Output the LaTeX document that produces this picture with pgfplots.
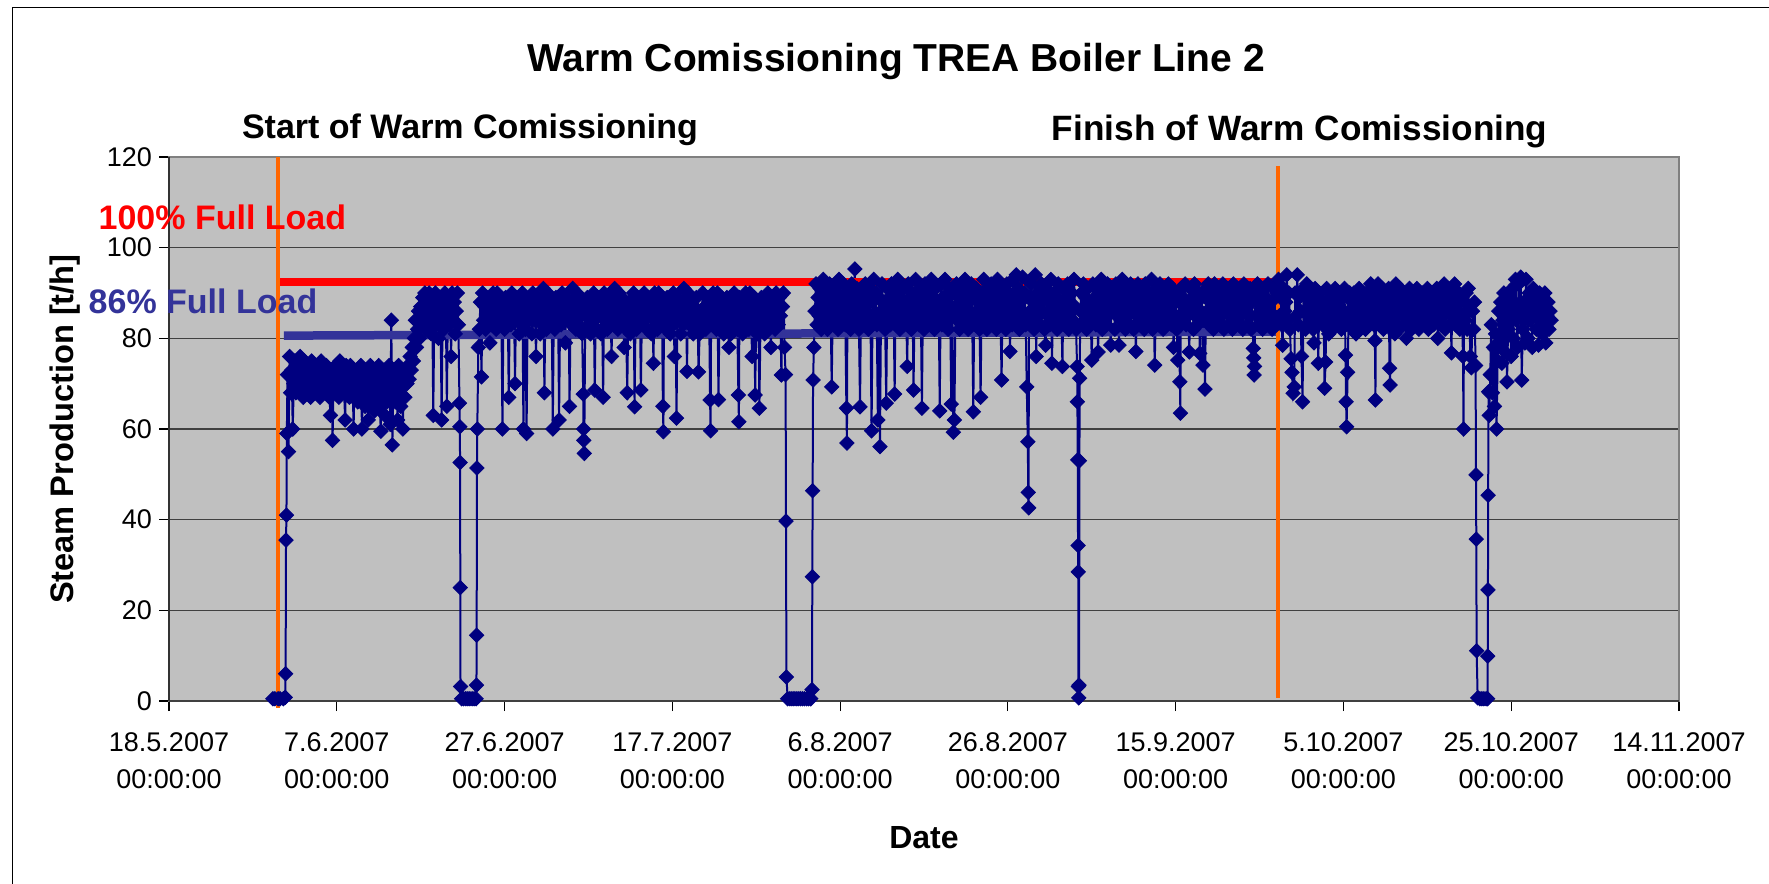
\documentclass[border=0pt]{standalone}
\usepackage{fontspec}
\setmainfont{Liberation Sans}
\usepackage{pgfplots}
\usepackage{pgfplotstable}
\pgfplotsset{compat=1.18}
\definecolor{plotgray}{RGB}{192,192,192}
\definecolor{navy}{RGB}{0,0,128}
\definecolor{loadblue}{RGB}{51,51,153}
\definecolor{comorange}{RGB}{255,102,0}

% x = time in units of 3 hours since 18.5.2007 00:00 (8 units per day)
\pgfplotstableread[row sep=\\]{
x y\\
99 0.5\\ 101 0.5\\ 104 0.5\\ 106 0.5\\ 109 0.5\\ 110.8 0.8\\ 111.2 6\\ 111.6 35.5\\ 112 41\\ 112.4 59\\
113 72\\ 114 55\\ 115 76\\ 116 68\\ 117 73\\ 118 60\\ 119 70\\ 120 75\\ 121 68\\ 122 72\\ 123 74\\ 124 69\\ 125 76\\ 126 70\\
127 73\\ 128 67\\ 129 75\\ 130 71\\ 131 68\\ 132 74\\ 133 70\\ 134 72\\ 135 67\\ 136 75\\ 137 69\\ 138 73\\ 139 71\\ 140 68\\
141 74\\ 142 70\\ 143 72\\ 144 67\\ 145 75\\ 146 69\\ 147 73\\ 148 71\\ 149 68\\ 150 74\\ 151 70\\ 152 72\\ 153 67\\ 154 63\\
155 73\\ 156 57.5\\ 157 71\\ 158 68\\ 159 74\\ 160 70\\ 161 72\\ 162 67\\ 163 75\\ 164 69\\ 165 73\\ 166 71\\ 167 68\\ 168 62\\
169 74\\ 170 70\\ 171 72\\ 172 67\\ 173 74\\ 174 69\\ 175 73\\ 176 60\\ 177 71\\ 178 68\\
179 73\\ 180 66\\ 181 71\\ 182 68\\ 183 74\\ 184 60\\ 185 70\\ 186 72\\ 187 65\\ 188 73\\ 189 67\\ 190 62\\ 191 71\\ 192 74\\
193 66\\ 194 69\\ 195 72\\ 196 64\\ 197 73\\ 198 67\\ 199 70\\ 200 74\\ 201 65\\ 202 59.5\\ 203 71\\ 204 68\\ 205 73\\ 206 63\\
207 70\\ 208 66\\ 209 72\\ 210 74\\ 211 61\\ 212 84\\ 213 56.5\\ 214 69\\ 215 73\\ 216 66\\ 217 71\\ 218 62\\ 219 74\\ 220 68\\
221 65\\ 222 72\\ 223 60\\ 224 70\\ 225 67\\ 226 73\\
227 70\\ 228 74\\ 229 71\\ 230 76\\ 231 73\\ 232 78\\ 233 75\\ 234 80\\ 235 84\\ 236 78\\ 237 82\\ 238 86\\ 239 80\\ 240 87\\
241 83\\ 242 89\\ 243 85\\ 244 90\\ 245 82\\ 246 88\\ 247 84\\ 248 90\\ 249 86\\ 250 81\\ 251 89\\ 252 63\\ 253 85\\ 254 90\\
255 83\\ 256 87\\ 257 80\\ 258 89\\ 259 84\\ 260 62\\ 261 88\\ 262 82\\ 263 90\\ 264 86\\ 265 65\\ 266 89\\ 267 83\\ 268 87\\
269 76\\ 270 90\\ 271 84\\ 272 88\\ 273 81\\ 274 86\\ 275 90\\ 276 83\\ 277 65.7\\ 277.3 60.5\\ 277.6 52.6\\ 277.8 25\\ 278 3.2\\
279 0.5\\ 281 0.5\\ 283 0.5\\ 285 0.5\\ 287 0.5\\ 289 0.5\\ 291 0.5\\ 292.8 0.5\\ 293.2 3.5\\ 293.4 14.5\\ 293.7 51.4\\ 294 60\\ 295 78\\
296 82\\ 297 88\\ 298 71.5\\ 299 90\\ 300 84\\ 301 87\\ 302 82\\ 303 89\\ 304 85\\ 305 88\\ 306 79\\ 307 86\\ 308 83\\ 309 90\\
310 84\\ 311 88\\ 312 82\\ 313 90\\ 314 86\\ 315 83\\ 316 89\\ 317 85\\ 318 60\\ 319 87\\ 320 82\\ 321 89\\ 322 85\\ 323 88\\
324 67\\ 325 86\\ 326 83\\ 327 90\\ 328 84\\ 329 87\\ 330 70\\ 331 89\\ 332 85\\ 333 88\\ 334 81\\ 335 86\\ 336 83\\ 337 90\\
338 60\\ 339 88\\ 340 82\\ 341 59\\ 342 86\\ 343 84\\ 344 89\\ 345 85\\ 346 81\\ 347 90\\ 348 84\\ 349 87\\ 350 76\\ 351 89\\
352 85\\ 353 88\\ 354 81\\ 355 86\\ 356 83\\ 357 91\\ 358 68\\ 359 88\\ 360 82\\ 361 90\\ 362 86\\ 363 83\\ 364 89\\ 365 85\\
366 60\\ 367 87\\ 368 82\\ 369 89\\ 370 85\\ 371 88\\ 372 62\\ 373 86\\ 374 83\\ 375 90\\ 376 84\\ 377 87\\ 378 79\\ 379 89\\
380 85\\ 381 88\\ 382 65\\ 383 86\\ 384 83\\ 385 91\\ 386 84\\ 387 88\\ 388 82\\ 389 90\\ 390 86\\ 391 83\\ 392 89\\ 393 85\\
394 81\\ 395 67.7\\ 395.3 60\\ 395.6 57.5\\ 396 54.6\\ 397 87\\ 398 82\\ 399 89\\ 400 85\\ 401 88\\ 402 81\\ 403 86\\ 404 83\\
405 90\\ 406 68.6\\ 407 87\\ 408 82\\ 409 89\\ 410 85\\ 411 88\\ 412 81\\ 413 86\\ 414 67\\ 415 90\\ 416 84\\ 417 87\\ 418 82\\
419 89\\ 420 85\\ 421 88\\ 422 76\\ 423 86\\ 424 83\\ 425 91\\ 426 84\\ 427 88\\ 428 82\\ 429 90\\ 430 86\\ 431 83\\ 432 89\\
433 85\\ 434 78\\ 435 87\\ 436 82\\ 437 68\\ 438 85\\ 439 88\\ 440 81\\ 441 86\\ 442 83\\ 443 90\\ 444 64.9\\ 445 87\\ 446 82\\
447 89\\ 448 85\\ 449 88\\ 450 68.6\\ 451 86\\ 452 83\\ 453 90\\ 454 84\\ 455 87\\ 456 82\\ 457 89\\ 458 85\\ 459 88\\ 460 81\\
461 86\\ 462 74.5\\ 463 90\\ 464 84\\ 465 88\\ 466 82\\ 467 90\\ 468 86\\ 469 83\\ 470 89\\ 471 65\\ 471.5 59.4\\ 472 85\\ 473 87\\
474 82\\ 475 89\\ 476 85\\ 477 88\\ 478 81\\ 479 86\\ 480 83\\ 481 90\\ 482 76\\ 483 87\\ 484 62.4\\ 485 89\\ 486 85\\ 487 88\\
488 81\\ 489 86\\ 490 83\\ 491 91\\ 492 84\\ 493 88\\ 494 72.7\\ 495 90\\ 496 86\\ 497 83\\ 498 89\\ 499 85\\ 500 81\\ 501 87\\
502 82\\ 503 89\\ 504 85\\ 505 72.6\\ 506 81\\ 507 86\\ 508 83\\ 509 90\\ 510 84\\ 511 87\\ 512 82\\ 513 89\\ 514 85\\ 515 88\\
516 66.4\\ 516.5 59.6\\ 517 86\\ 518 83\\ 519 90\\ 520 84\\ 521 88\\ 522 82\\ 523 90\\ 524 66.5\\ 525 86\\ 526 83\\ 527 89\\ 528 85\\
529 81\\ 530 87\\ 531 82\\ 532 89\\ 533 85\\ 534 78\\ 535 88\\ 536 81\\ 537 86\\ 538 83\\ 539 90\\ 540 84\\ 541 87\\ 542 82\\
543 67.5\\ 543.5 61.6\\ 544 89\\ 545 85\\ 546 88\\ 547 81\\ 548 86\\ 549 83\\ 550 90\\ 551 84\\ 552 88\\ 553 82\\ 554 90\\ 555 86\\
556 76\\ 557 83\\ 558 89\\ 559 67.5\\ 560 85\\ 561 81\\ 562 87\\ 563 64.6\\ 564 82\\ 565 89\\ 566 85\\ 567 88\\ 568 81\\ 569 86\\
570 83\\ 571 90\\ 572 84\\ 573 87\\ 574 78\\ 575 89\\ 576 85\\ 577 88\\ 578 82\\ 579 90\\ 580 86\\ 581 83\\ 582 89\\ 583 85\\
584 71.9\\ 585 87\\ 586 90\\ 587 78\\ 588 72\\ 588.4 39.7\\ 588.8 5.3\\ 590 0.5\\ 592 0.5\\ 594 0.5\\ 596 0.5\\ 598 0.5\\ 600 0.5\\
602 0.5\\ 604 0.5\\ 606 0.5\\ 608 0.5\\ 610 0.5\\ 612 0.5\\ 613.2 2.5\\ 613.5 27.4\\ 613.8 46.4\\ 614.2 70.8\\
615 78\\ 616 86\\ 617 92\\ 618 83\\ 619 89\\ 620 85\\ 621 91\\ 622 82\\ 623 88\\ 624 93\\ 625 84\\ 626 90\\ 627 86\\ 628 82\\
629 89\\ 630 92\\ 631 85\\ 632 69.3\\ 633 88\\ 634 83\\ 635 91\\ 636 86\\ 637 90\\ 638 82\\ 639 93\\ 640 85\\ 641 89\\ 642 84\\
643 92\\ 644 87\\ 645 83\\ 646 64.6\\ 646.5 56.9\\ 647 90\\ 648 85\\ 649 88\\ 650 82\\ 651 92\\ 652 86\\ 653 89\\ 654 95.3\\ 655 84\\
656 91\\ 657 87\\ 658 82\\ 659 64.9\\ 660 90\\ 661 85\\ 662 88\\ 663 83\\ 664 92\\ 665 86\\ 666 89\\ 667 82\\ 668 91\\ 669 84\\
670 59.6\\ 671 88\\ 672 93\\ 673 85\\ 674 90\\ 675 83\\ 676 62\\ 677 89\\ 678 56.1\\ 679 86\\ 680 92\\ 681 84\\ 682 88\\ 683 82\\
684 65.7\\ 685 91\\ 686 86\\ 687 89\\ 688 83\\ 689 92\\ 690 85\\ 691 88\\ 692 67.7\\ 693 90\\ 694 84\\ 695 93\\ 696 87\\ 697 82\\
698 89\\ 699 85\\ 700 91\\ 701 83\\ 702 88\\ 703 86\\ 704 73.8\\ 705 92\\ 706 84\\ 707 89\\ 708 82\\ 709 90\\ 710 68.6\\ 711 87\\
712 93\\ 713 85\\ 714 88\\ 715 83\\ 716 91\\ 717 86\\ 718 64.6\\ 719 89\\ 720 82\\ 721 92\\ 722 85\\ 723 88\\ 724 83\\ 725 90\\
726 86\\ 727 93\\ 728 84\\ 729 89\\ 730 82\\ 731 91\\ 732 87\\ 733 85\\ 734 88\\ 735 64\\ 736 92\\ 737 83\\ 738 89\\ 739 86\\
740 93\\ 741 84\\ 742 88\\ 743 82\\ 744 91\\ 745 85\\ 746 65.5\\ 747 90\\ 748 59.3\\ 749 62\\ 750 87\\ 751 92\\ 752 84\\ 753 89\\
754 82\\ 755 91\\ 756 86\\ 757 88\\ 758 83\\ 759 93\\ 760 85\\ 761 90\\ 762 82\\ 763 88\\ 764 86\\ 765 92\\ 766 84\\ 767 63.8\\
768 89\\ 769 83\\ 770 91\\ 771 86\\ 772 88\\ 773 82\\ 774 67\\ 775 90\\ 776 85\\ 777 93\\ 778 84\\ 779 89\\ 780 82\\ 781 91\\
782 87\\ 783 85\\ 784 92\\ 785 83\\ 786 88\\ 787 86\\ 788 90\\ 789 82\\ 790 93\\ 791 85\\ 792 89\\ 793 84\\ 794 70.8\\ 795 91\\
796 86\\ 797 88\\ 798 82\\ 799 92\\ 800 85\\ 801 90\\ 802 77.1\\ 803 88\\ 804 83\\ 805 93\\ 806 86\\ 807 89\\ 808 94\\ 809 84\\
810 91\\ 811 82\\ 812 88\\ 813 86\\ 814 93.5\\ 815 85\\ 816 90\\ 817 83\\ 818 69.3\\ 819 57.2\\ 819.4 46\\ 819.8 42.6\\ 820 89\\
821 86\\ 822 92\\ 823 84\\ 824 88\\ 825 82\\ 826 94\\ 827 76\\ 828 90\\ 829 85\\ 830 88\\ 831 83\\ 832 92\\ 833 86\\ 834 89\\
835 82\\ 836 78.5\\ 837 91\\ 838 85\\ 839 88\\ 840 83\\ 841 93\\ 842 74.5\\ 843 86\\ 844 90\\ 845 84\\ 846 89\\ 847 82\\ 848 92\\
849 85\\ 850 88\\ 851 86\\ 852 73.8\\ 853 91\\ 854 83\\ 855 89\\ 856 85\\ 857 92\\ 858 82\\ 859 88\\ 860 86\\ 861 90\\ 862 84\\
863 93\\ 864 87\\ 865 82\\ 866 73.8\\ 866.3 66\\ 866.6 53.2\\ 866.9 34.3\\ 867.1 28.5\\ 867.3 3.2\\ 867.6 0.7\\ 867.9 3.5\\
868.2 53\\ 868.5 71.2\\ 869 86\\
870 90\\ 871 83\\ 872 92\\ 873 86\\ 874 89\\ 875 82\\ 876 91\\ 877 85\\ 878 88\\ 879 84\\ 880 75.2\\ 881 92\\ 882 86\\ 883 89\\
884 83\\ 885 91\\ 886 77\\ 887 88\\ 888 85\\ 889 93\\ 890 82\\ 891 90\\ 892 86\\ 893 88\\ 894 83\\ 895 92\\ 896 85\\ 897 89\\
898 78.5\\ 899 91\\ 900 86\\ 901 88\\ 902 82\\ 903 92\\ 904 85\\ 905 89\\ 906 78.5\\ 907 90\\ 908 84\\ 909 93\\ 910 86\\ 911 88\\
912 82\\ 913 91\\ 914 85\\ 915 89\\ 916 83\\ 917 92\\ 918 86\\ 919 88\\ 920 82\\ 921 90\\ 922 77.1\\ 923 85\\ 924 92\\ 925 88\\
926 83\\ 927 91\\ 928 86\\ 929 89\\ 930 82\\ 931 92\\ 932 85\\ 933 88\\ 934 84\\ 935 90\\ 936 86\\ 937 93\\ 938 82\\ 939 89\\
940 74.1\\ 941 85\\ 942 91\\ 943 88\\ 944 83\\ 945 92\\ 946 86\\ 947 89\\ 948 82\\ 949 90\\ 950 85\\ 951 88\\ 952 84\\ 953 92\\
954 86\\ 955 89\\ 956 83\\ 957 91\\ 958 78\\ 959 85\\ 960 88\\ 961 82\\ 962 75.2\\ 963 90\\ 964 70.4\\ 964.5 63.5\\ 965 91\\
966 84\\ 967 89\\ 968 86\\ 969 92\\ 970 83\\ 971 88\\ 972 85\\ 973 77\\ 974 91\\ 975 86\\ 976 89\\ 977 82\\ 978 92\\ 979 85\\
980 88\\ 981 83\\ 982 90\\ 983 76.7\\ 984 86\\ 985 89\\ 986 74.1\\ 987 84\\ 988 68.8\\ 989 91\\ 990 86\\ 991 92\\ 992 83\\
993 88\\ 994 85\\ 995 90\\ 996 82\\ 997 92\\ 998 86\\ 999 89\\ 1000 84\\ 1001 91\\ 1002 83\\ 1003 88\\ 1004 85\\ 1005 92\\
1006 82\\ 1007 90\\ 1008 86\\ 1009 88\\ 1010 83\\ 1011 91\\ 1012 85\\ 1013 89\\ 1014 82\\ 1015 92\\ 1016 86\\ 1017 88\\ 1018 84\\
1019 90\\ 1020 83\\ 1021 91\\ 1022 85\\ 1023 89\\ 1024 82\\ 1025 92\\ 1026 86\\ 1027 88\\ 1028 83\\ 1029 90\\ 1030 85\\ 1031 91\\
1032 82\\ 1033 88\\ 1034 77.8\\ 1034.4 75.7\\ 1034.8 71.9\\ 1035.2 73.8\\ 1036 89\\ 1037 85\\ 1038 92\\ 1039 83\\ 1040 88\\
1041 86\\ 1042 90\\ 1043 82\\ 1044 91\\ 1045 85\\ 1046 89\\ 1047 83\\ 1048 92\\ 1049 86\\ 1050 84.5\\ 1051 88\\ 1052 82\\
1053 91\\ 1054 85\\ 1055 89\\ 1056 83\\ 1057 90\\
1058 93\\ 1059 85\\ 1060 89\\ 1061 83\\ 1062 78.5\\ 1063 91\\ 1064 86\\ 1065 88\\ 1066 94\\ 1067 84\\ 1068 90\\ 1069 82\\
1070 75.5\\ 1071 72.5\\ 1072 67.9\\ 1073 69.3\\ 1074 90\\ 1075 85\\ 1076 94\\ 1077 83\\ 1078 89\\ 1079 86\\ 1080 76\\ 1081 66\\
1082 91\\ 1083 86\\ 1084 82\\ 1085 92\\ 1086 85\\ 1087 89\\ 1088 83\\ 1089 90\\ 1090 86\\ 1091 82\\ 1092 79\\ 1093 91\\ 1094 85\\
1095 88\\ 1096 74.5\\ 1097 90\\ 1098 84\\ 1099 88\\ 1100 83\\ 1101 86\\ 1102 69\\ 1103 74.8\\ 1104 91\\ 1105 85\\ 1106 81\\
1107 89\\ 1108 84\\ 1109 90\\ 1110 82\\ 1111 87\\ 1112 91\\ 1113 85\\ 1114 88\\ 1115 83\\ 1116 90\\ 1117 86\\ 1118 82\\ 1119 89\\
1120 84\\ 1121 91\\ 1122 76.3\\ 1122.5 66\\ 1123 60.5\\ 1124 72.5\\ 1125 86\\ 1126 90\\ 1127 83\\ 1128 88\\ 1129 82\\ 1130 90\\
1131 85\\ 1132 81\\ 1133 89\\ 1134 84\\ 1135 91\\ 1136 86\\ 1137 83\\ 1138 90\\ 1139 85\\ 1140 88\\ 1141 82\\ 1142 90\\ 1143 86\\
1144 84\\ 1145 89\\ 1146 92\\ 1147 85\\ 1148 88\\ 1149 83\\ 1150 79.5\\ 1150.5 66.4\\ 1151 90\\ 1152 86\\ 1153 92\\ 1154 83\\
1155 88\\ 1156 85\\ 1157 91\\ 1158 82\\ 1159 89\\ 1160 86\\ 1161 90\\ 1162 83\\ 1163 91\\ 1164 73.4\\ 1164.5 69.7\\ 1165 86\\
1166 90\\ 1167 83\\ 1168 88\\ 1169 81\\ 1170 92\\ 1171 85\\ 1172 89\\ 1173 82\\ 1174 91\\ 1175 86\\ 1176 88\\ 1177 83\\ 1178 90\\
1179 85\\ 1180 80\\ 1181 89\\ 1182 84\\ 1183 91\\ 1184 86\\ 1185 82\\ 1186 90\\ 1187 85\\ 1188 88\\ 1189 83\\ 1190 91\\ 1191 86\\
1192 82\\ 1193 89\\ 1194 84\\ 1195 90\\ 1196 86\\ 1197 83\\ 1198 88\\ 1199 85\\ 1200 91\\ 1201 82\\ 1202 89\\ 1203 86\\ 1204 84\\
1205 90\\ 1206 83\\ 1207 88\\ 1208 85\\ 1209 91\\ 1210 80\\ 1211 86\\ 1212 90\\ 1213 83\\ 1214 89\\ 1215 85\\ 1216 92\\ 1217 82\\
1218 88\\ 1219 86\\ 1220 91\\ 1221 83\\ 1222 89\\ 1223 76.8\\ 1224 91\\ 1225 85\\ 1226 92\\ 1227 83\\ 1228 88\\ 1229 86\\ 1230 90\\
1231 82\\ 1232 89\\ 1233 85\\ 1234 76\\ 1234.5 60\\ 1235 88\\ 1236 84\\ 1237 90\\ 1238 82\\ 1239 91\\ 1240 86\\ 1241 76\\
1242 73.5\\ 1243 86\\ 1244 82\\ 1245 88\\ 1246 74\\ 1246.4 49.9\\ 1246.7 35.7\\ 1247 11.1\\ 1248 0.7\\ 1250 0.5\\ 1252 0.5\\
1254 0.5\\ 1256 0.5\\ 1257.4 0.5\\ 1257.6 9.9\\ 1257.8 24.5\\ 1258 45.4\\ 1258.4 68.2\\
1259 63\\ 1260 72\\ 1261 83\\ 1262 68\\ 1263 78\\ 1264 65\\ 1265 81\\ 1266 60\\ 1267 75\\ 1268 86\\ 1269 79\\ 1270 88\\
1271 74.5\\ 1272 84\\ 1273 90\\ 1274 77\\ 1275 87\\ 1276 70.4\\ 1277 82\\ 1278 89\\ 1279 85\\ 1280 76\\ 1281 91\\ 1282 80\\
1283 88\\ 1284 93\\ 1285 84\\ 1286 78\\ 1287 92\\ 1288 86\\ 1289 93.5\\ 1290 70.8\\ 1291 82\\ 1292 88\\ 1293 79\\ 1294 93\\
1295 86\\ 1296 80\\ 1297 90\\ 1298 84\\ 1299 88\\ 1300 78\\ 1301 91\\ 1302 85\\ 1303 89\\ 1304 82\\ 1305 87\\ 1306 78.5\\
1307 90\\ 1308 84\\ 1309 88\\ 1310 81\\ 1311 86\\ 1312 90\\ 1313 79\\ 1314 85\\ 1315 88\\ 1316 82\\ 1317 86\\ 1318 84\\
}\steam

\begin{document}
\begin{tikzpicture}
\useasboundingbox (0pt,0pt) rectangle (884.5pt,-442pt);
\fill[white] (0pt,0pt) rectangle (884.5pt,-442pt);
\draw[black, line width=0.6pt] (6.3pt,-500pt) -- (6.3pt,-3.6pt) -- (1000pt,-3.6pt);
\begin{axis}[
  at={(84.5pt,-350.5pt)}, anchor=south west,
  width=755pt, height=272pt, scale only axis,
  xmin=0, xmax=1440, ymin=0, ymax=120,
  xtick={0,160,...,1440}, ytick={0,20,...,120},
  xticklabels={{18.5.2007\\00:00:00},{7.6.2007\\00:00:00},{27.6.2007\\00:00:00},{17.7.2007\\00:00:00},{6.8.2007\\00:00:00},{26.8.2007\\00:00:00},{15.9.2007\\00:00:00},{5.10.2007\\00:00:00},{25.10.2007\\00:00:00},{14.11.2007\\00:00:00}},
  /pgf/number format/assume math mode=true,
  yticklabel style={font=\fontsize{13.5}{16}\selectfont},
  xticklabel style={align=center, font=\fontsize{13.5}{18.3}\selectfont, yshift=-7.5pt},
  xtick pos=left, ytick pos=left,
  tick align=outside, major tick length=5pt,
  tick style={black, line width=0.6pt},
  ymajorgrids, grid style={black!75, line width=0.8pt},
  axis background/.style={fill=plotgray},
  axis line style={gray, line width=1pt},
  clip=false,
]
\draw[black!80, line width=1pt] (rel axis cs:0,0) -- (rel axis cs:0,1);
\draw[black!75, line width=1.2pt] (rel axis cs:0,0) -- (rel axis cs:1,0);
\addplot[navy, line width=1pt, mark=diamond*, mark size=3.6pt,
  mark options={xscale=1.33, solid, fill=navy, draw=navy, line width=0.4pt}]
  table[x=x, y=y] {\steam};
\addplot[red, line width=4pt, no marks] coordinates {(102.4,92.5) (1058.8,92.5)};
\addplot[loadblue, line width=4.25pt, no marks] coordinates {(109.6,80.6) (1059.2,81.5)};
\addplot[comorange, line width=1.7pt, no marks] coordinates {(104,-1.5) (104,120)};
\addplot[comorange, line width=1.7pt, no marks] coordinates {(1057.6,0.7) (1057.6,118)};
\end{axis}
\node[anchor=base, font=\fontsize{19.5}{22}\selectfont\bfseries] at (448pt,-35.8pt) {Warm Comissioning TREA Boiler Line 2};
\node[anchor=base, font=\fontsize{17}{20}\selectfont\bfseries] at (235pt,-69.2pt) {Start of Warm Comissioning};
\node[anchor=base, font=\fontsize{17.6}{20}\selectfont\bfseries] at (649.8pt,-70pt) {Finish of Warm Comissioning};
\node[anchor=base, text=red, font=\fontsize{17}{20}\selectfont\bfseries] at (111.2pt,-114.7pt) {100\% Full Load};
\node[anchor=base, text=loadblue, font=\fontsize{17}{20}\selectfont\bfseries] at (101.5pt,-156.7pt) {86\% Full Load};
\node[anchor=base, rotate=90, font=\fontsize{16.3}{20}\selectfont\bfseries] at (36.7pt,-214.6pt) {Steam Production [t/h]};
\node[anchor=base, font=\fontsize{16}{20}\selectfont\bfseries] at (462pt,-424.2pt) {Date};
\end{tikzpicture}
\end{document}
